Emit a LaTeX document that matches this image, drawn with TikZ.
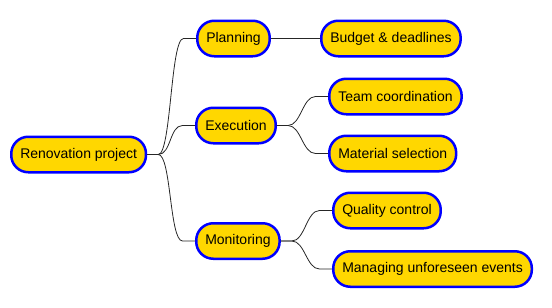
\documentclass[tikz,border=0pt]{standalone}
\usepackage{fontspec}
\setmainfont{Liberation Sans}
\definecolor{topicfill}{HTML}{FFD700}
\definecolor{topicline}{HTML}{0000FF}
\tikzset{
  topic/.style={draw=topicline, line width=2.5pt, fill=topicfill, rounded corners=17pt,
    minimum height=35.5pt, inner xsep=9pt, inner ysep=0pt, anchor=west,
    font=\fontsize{14}{16}\selectfont, text=black},
  link/.style={draw=black!85, line width=0.8pt},
}
\newcommand{\branch}[2]{%
  \draw[link] (#1.east) -- ++(11,0) .. controls +(13,0) and +(-13,0) ..
    ([xshift=-12.5pt]#2.west) -- (#2.west);}
\begin{document}
\begin{tikzpicture}[x=1pt,y=-1pt]
\useasboundingbox (0,0) rectangle (552,308);
\node[topic] (root) at (10,154.5) {Renovation project};
\node[topic] (plan) at (196,38.5) {Planning};
\node[topic] (budget) at (320,38.5) {Budget \& deadlines};
\node[topic] (exec) at (195,125.5) {Execution};
\node[topic] (team) at (328,96.5) {Team coordination};
\node[topic] (mat) at (328,153.5) {Material selection};
\node[topic] (mon) at (195,241) {Monitoring};
\node[topic] (qual) at (332,210.5) {Quality control};
\node[topic] (manage) at (332,269) {Managing unforeseen events};
\begin{scope}[on background layer/.try]
\end{scope}
\branch{root}{plan}
\branch{root}{exec}
\branch{root}{mon}
\draw[link] (plan.east) -- (budget.west);
\branch{exec}{team}
\branch{exec}{mat}
\branch{mon}{qual}
\branch{mon}{manage}
\end{tikzpicture}
\end{document}
